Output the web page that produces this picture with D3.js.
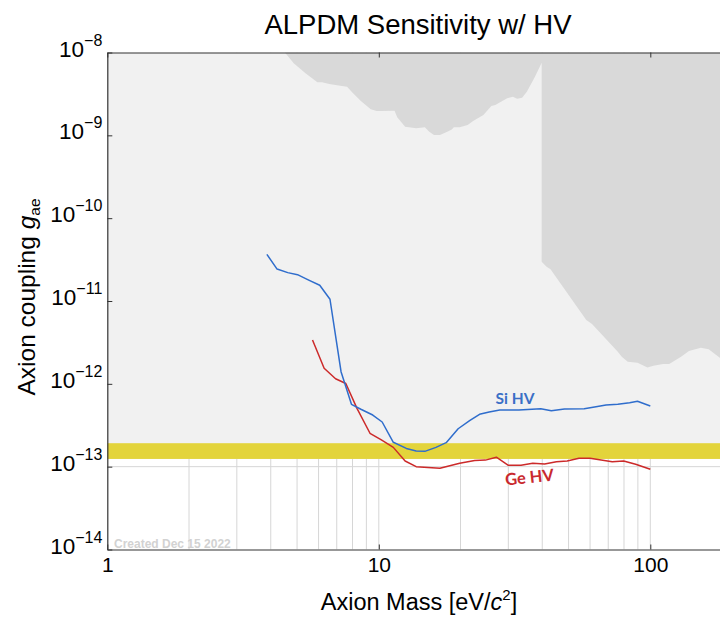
<!DOCTYPE html>
<html>
<head>
<meta charset="utf-8">
<script src="https://cdn.jsdelivr.net/npm/d3@7"></script>
<style>
  body { margin: 0; background: #fff; }
  svg { display: block; }
  text { font-family: "Liberation Sans", Arial, Helvetica, sans-serif; }
</style>
</head>
<body>
<svg id="chart" width="720" height="617"></svg>
<script>
// ---- data -------------------------------------------------------------
const massTicks = [1, 10, 100];
const massTickLabels = ["1", "10", "100"];
const couplingTicks = [1e-8, 1e-9, 1e-10, 1e-11, 1e-12, 1e-13, 1e-14];
const couplingExponents = [-8, -9, -10, -11, -12, -13, -14];
const gridMasses = [2, 3, 4, 5, 6, 7, 8, 9, 10, 20, 30, 40, 50, 60, 70, 80, 90, 100];
const gridCouplings = [1e-13];

// Si HV projected sensitivity
const siMass = [3.87, 4.22, 4.62, 5.02, 5.52, 6.06, 6.61, 7.26, 7.93, 8.59, 9.50, 10.29,
  11.31, 12.63, 13.73, 14.78, 16.24, 17.71, 19.6, 21.6, 23.5, 25.5, 27.9, 32.8, 39.5,
  43.2, 48.3, 57.1, 63.1, 68.7, 75.9, 83.9, 89.7, 100];
const siCoupling = [3.66e-11, 2.43e-11, 2.20e-11, 2.08e-11, 1.79e-11, 1.55e-11, 1.05e-11,
  1.40e-12, 5.66e-13, 4.93e-13, 4.20e-13, 3.46e-13, 1.97e-13, 1.66e-13, 1.55e-13,
  1.53e-13, 1.71e-13, 1.95e-13, 2.87e-13, 3.59e-13, 4.29e-13, 4.57e-13, 4.83e-13,
  4.83e-13, 5.01e-13, 4.74e-13, 4.97e-13, 5.01e-13, 5.29e-13, 5.55e-13, 5.66e-13,
  5.92e-13, 6.15e-13, 5.40e-13];

// Ge HV projected sensitivity
const geMass = [5.70, 6.29, 6.93, 7.56, 8.31, 9.28, 10.22, 11.31, 12.50, 13.73, 16.79,
  19.86, 22.55, 24.7, 27.1, 30.0, 33.4, 36.9, 40.8, 45.1, 49.4, 54.6, 60.0, 65.9, 72.4,
  79.8, 88.3, 100];
const geCoupling = [3.38e-12, 1.54e-12, 1.15e-12, 1.01e-12, 5.06e-13, 2.53e-13, 2.10e-13,
  1.71e-13, 1.17e-13, 9.99e-14, 9.55e-14, 1.10e-13, 1.19e-13, 1.20e-13, 1.30e-13,
  1.04e-13, 1.04e-13, 1.10e-13, 1.08e-13, 1.15e-13, 1.17e-13, 1.26e-13, 1.26e-13,
  1.20e-13, 1.15e-13, 1.17e-13, 1.07e-13, 9.29e-14];

// Existing exclusion (dark grey), outlined clockwise from the top edge
const excludedMass = [4.51, 4.86, 5.37, 5.94, 6.18, 6.57, 7.21, 7.64, 8.04, 8.59, 9.34,
  9.82, 10.22, 11.43, 11.69, 12.50, 13.73, 14.78, 15.30, 15.97, 16.80, 17.95, 18.57,
  18.89, 19.86, 21.24, 22.33, 24.28, 25.97, 26.86, 29.7, 31.2, 32.3, 33.7, 35.1, 37.6,
  39.8, 39.8, 41.5, 42.9, 58.1, 61.0, 75.9, 78.5, 82.6, 89.7, 97.6, 102.7, 111.5, 117.4,
  129.8, 138.8, 153.5, 164.1, 180.3, 200, 200];
const excludedCoupling = [1e-8, 7.41e-9, 5.61e-9, 4.37e-9, 4.37e-9, 4.17e-9, 3.97e-9,
  3.86e-9, 3.22e-9, 2.60e-9, 2.06e-9, 1.97e-9, 1.97e-9, 1.98e-9, 1.65e-9, 1.27e-9,
  1.22e-9, 1.25e-9, 1.11e-9, 1.01e-9, 1.01e-9, 1.11e-9, 1.18e-9, 1.25e-9, 1.25e-9,
  1.33e-9, 1.50e-9, 1.76e-9, 2.26e-9, 2.32e-9, 2.80e-9, 2.93e-9, 2.77e-9, 2.85e-9,
  3.36e-9, 5.10e-9, 7.53e-9, 2.98e-11, 2.59e-11, 2.41e-11, 5.90e-12, 5.28e-12,
  2.44e-12, 2.13e-12, 1.85e-12, 1.80e-12, 1.57e-12, 1.65e-12, 1.73e-12, 1.73e-12,
  2.13e-12, 2.49e-12, 2.73e-12, 2.61e-12, 2.07e-12, 1.9e-12, 1e-8];

// Target band (yellow)
const bandLow = 1.24e-13;
const bandHigh = 1.92e-13;

// ---- layout -----------------------------------------------------------
const plotLeft = 107.3, decadeX = 271.5;
const plotTop = 52.5, plotBottom = 549.5;
const svg = d3.select("#chart");

const x = d3.scaleLog().domain([1, 200]).range([plotLeft, plotLeft + decadeX * Math.log10(200)]);
const y = d3.scaleLog().domain([1e-14, 1e-8]).range([plotBottom, plotTop]);

svg.append("defs").append("clipPath").attr("id", "plot-clip")
  .append("rect")
  .attr("x", x(1)).attr("y", y(1e-8))
  .attr("width", x(200) - x(1)).attr("height", y(1e-14) - y(1e-8));

const plot = svg.append("g").attr("clip-path", "url(#plot-clip)");

// grid
plot.selectAll("line.vgrid").data(gridMasses).join("line")
  .attr("class", "vgrid")
  .attr("x1", d => x(d)).attr("x2", d => x(d))
  .attr("y1", y(1e-14)).attr("y2", y(1e-8))
  .attr("stroke", "#d6d6d6").attr("stroke-width", 1);
plot.selectAll("line.hgrid").data(gridCouplings).join("line")
  .attr("class", "hgrid")
  .attr("x1", x(1)).attr("x2", x(200))
  .attr("y1", d => y(d)).attr("y2", d => y(d))
  .attr("stroke", "#d6d6d6").attr("stroke-width", 1);

// light grey region above the band
plot.append("rect")
  .attr("x", x(1)).attr("y", y(1e-8))
  .attr("width", x(200) - x(1)).attr("height", y(bandLow) - y(1e-8))
  .attr("fill", "#f1f1f1");

// excluded region
const excluded = excludedMass.map((m, i) => [m, excludedCoupling[i]]);
plot.append("path")
  .attr("d", d3.line().x(d => x(d[0])).y(d => y(d[1])).curve(d3.curveLinear)(excluded) + "Z")
  .attr("fill", "#d9d9d9");

// band
plot.append("rect")
  .attr("x", x(1)).attr("y", y(bandHigh))
  .attr("width", x(200) - x(1)).attr("height", y(bandLow) - y(bandHigh))
  .attr("fill", "#e3d43b");

// sensitivity curves
const line = d3.line().x(d => x(d[0])).y(d => y(d[1]));
plot.append("path")
  .attr("d", line(geMass.map((m, i) => [m, geCoupling[i]])))
  .attr("fill", "none").attr("stroke", "#cc2a2a").attr("stroke-width", 1.5)
  .attr("stroke-linejoin", "round");
plot.append("path")
  .attr("d", line(siMass.map((m, i) => [m, siCoupling[i]])))
  .attr("fill", "none").attr("stroke", "#2f6dcc").attr("stroke-width", 1.5)
  .attr("stroke-linejoin", "round");

// curve labels
svg.append("text")
  .attr("x", 515).attr("y", 404)
  .attr("text-anchor", "middle")
  .style("font-family", "Lato, 'Open Sans', sans-serif")
  .style("font-weight", "bold").style("font-size", "15.5px")
  .attr("fill", "#3a6fc6").text("Si HV");
svg.append("text")
  .attr("transform", "translate(530,483) rotate(-6)")
  .attr("text-anchor", "middle")
  .style("font-family", "Lato, 'Open Sans', sans-serif")
  .style("font-weight", "bold").style("font-size", "16.5px")
  .attr("fill", "#c9292e").text("Ge HV");

// footnote
svg.append("text")
  .attr("x", 114).attr("y", 547.5)
  .style("font-weight", "bold").style("font-size", "12px")
  .attr("fill", "#d2d2d2").text("Created Dec 15 2022");

// ---- axes -------------------------------------------------------------
const axisColor = "#333";

const xAxis = svg.append("g").attr("transform", `translate(0,${plotBottom})`)
  .call(d3.axisBottom(x).tickValues(massTicks)
    .tickFormat((d, i) => massTickLabels[i])
    .tickSizeInner(-5).tickSizeOuter(0).tickPadding(8));
const xTop = svg.append("g").attr("transform", `translate(0,${plotTop})`)
  .call(d3.axisTop(x).tickValues(massTicks).tickFormat("")
    .tickSizeInner(-5).tickSizeOuter(0));
const yAxis = svg.append("g").attr("transform", `translate(${plotLeft},0)`)
  .call(d3.axisLeft(y).tickValues(couplingTicks).tickFormat("")
    .tickSizeInner(-5).tickSizeOuter(0).tickPadding(6));

[xAxis, xTop, yAxis].forEach(g => {
  g.select(".domain").attr("stroke", axisColor).attr("stroke-width", 1.2);
  g.selectAll(".tick line").attr("stroke", axisColor).attr("stroke-width", 1);
});

xAxis.selectAll(".tick text")
  .attr("fill", "#000").style("font-size", "21px")
  .style("font-family", "'Liberation Sans', Arial, sans-serif");

yAxis.selectAll(".tick text").each(function(d, i) {
  const t = d3.select(this)
    .attr("fill", "#000")
    .style("font-family", "'Liberation Sans', Arial, sans-serif")
    .attr("dy", "0.36em").attr("x", -5);
  t.text(null);
  t.append("tspan").style("font-size", "22.5px").text("10");
  t.append("tspan").style("font-size", "16px").attr("dy", "-11")
    .text("\u2212" + Math.abs(couplingExponents[i]));
});

// title
svg.append("text")
  .attr("x", 418).attr("y", 34)
  .attr("text-anchor", "middle")
  .style("font-size", "27.5px").attr("fill", "#000")
  .text("ALPDM Sensitivity w/ HV");

// x label
const xl = svg.append("text")
  .attr("x", 419).attr("y", 610)
  .attr("text-anchor", "middle")
  .style("font-size", "23.5px").attr("fill", "#000");
xl.append("tspan").text("Axion Mass [eV/");
xl.append("tspan").style("font-style", "italic").text("c");
xl.append("tspan").style("font-size", "15px").attr("dy", "-10").text("2");
xl.append("tspan").attr("dy", "10").text("]");

// y label
const yl = svg.append("text")
  .attr("transform", "translate(35,297) rotate(-90)")
  .attr("text-anchor", "middle")
  .style("font-size", "24.5px").attr("fill", "#000");
yl.append("tspan").text("Axion coupling ");
yl.append("tspan").style("font-style", "italic").text("g");
yl.append("tspan").style("font-size", "15.5px").attr("dy", "5").text("ae");
</script>
</body>
</html>
